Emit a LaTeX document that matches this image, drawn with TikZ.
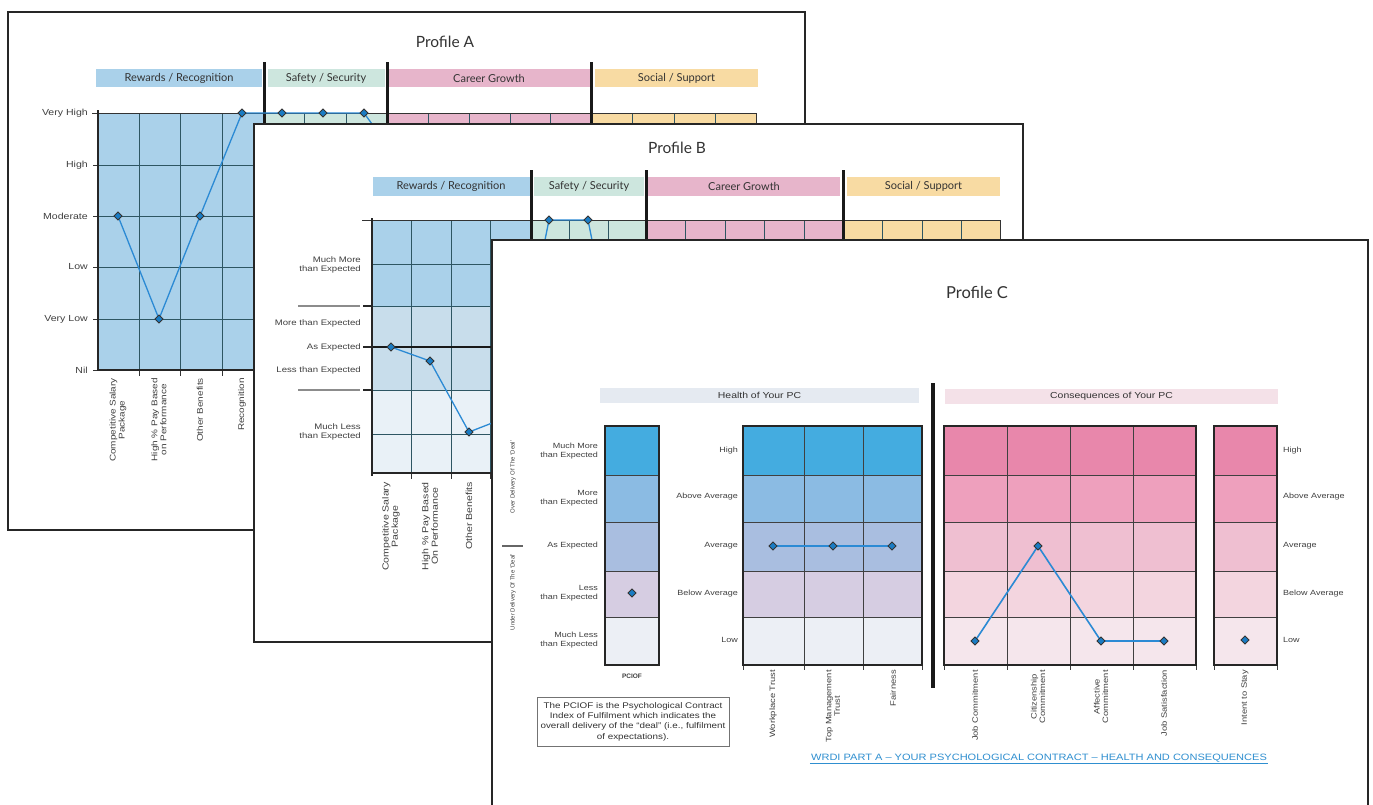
\documentclass[tikz,border=0pt]{standalone}
\usepackage{fontspec}
\setmainfont{Liberation Sans}
\newfontfamily\lato{Lato}
\newfontfamily\wf[FakeStretch=1.2]{Liberation Sans}
\usetikzlibrary{shapes.geometric}
\definecolor{cRW}{HTML}{AAD1EA}
\definecolor{cSS}{HTML}{CDE6DE}
\definecolor{cCG}{HTML}{E7B5CB}
\definecolor{cSP}{HTML}{F8DBA3}
\definecolor{bM}{HTML}{C8DDEB}
\definecolor{bL}{HTML}{E9F1F7}
\definecolor{gridteal}{HTML}{2E5663}
\definecolor{markblue}{HTML}{1A7CC4}
\definecolor{lineblue}{HTML}{2B8AD4}
\definecolor{hA}{HTML}{44ACE0}
\definecolor{hB}{HTML}{8BBBE3}
\definecolor{hC}{HTML}{A9BEE0}
\definecolor{hD}{HTML}{D6CDE2}
\definecolor{hE}{HTML}{ECEFF5}
\definecolor{pA}{HTML}{E887AB}
\definecolor{pB}{HTML}{EEA0BD}
\definecolor{pC}{HTML}{EFBFD1}
\definecolor{pD}{HTML}{F3D5DF}
\definecolor{pE}{HTML}{F5E6EC}
\definecolor{barH}{HTML}{E5EAF1}
\definecolor{barC}{HTML}{F4E1E8}
\definecolor{linkblue}{HTML}{2F8FD0}
\begin{document}
\begin{tikzpicture}[x=1pt,y=-1pt]
\tikzset{
  panel/.style={draw=black!85, line width=1.6pt, fill=white},
  ttl/.style={font=\lato\fontsize{15.5}{17}\selectfont, text=black!80},
  hbar/.style={font=\lato\fontsize{11}{12}\selectfont, text=black!80, inner sep=0pt, minimum height=18pt},
  ylab/.style={font=\wf\fontsize{8.8}{10}\selectfont, anchor=east, align=right, text=black!75, inner sep=0pt},
  xlab/.style={font=\wf\fontsize{8.3}{9}\selectfont, rotate=90, anchor=east, align=center, text=black!75, inner sep=0pt},
  clab/.style={font=\wf\fontsize{7.5}{8.6}\selectfont, align=right, text=black!75, inner sep=0pt},
  cxlab/.style={xlab, font=\wf\fontsize{7.8}{8.4}\selectfont},
  grd/.style={draw=gridteal, line width=0.6pt},
  cgrd/.style={draw=black!75, line width=0.6pt},
  sepline/.style={draw=black!90, line width=3pt},
  mk/.style={diamond, draw=black!80, fill=markblue, inner sep=0pt, minimum width=8.5pt, minimum height=8.5pt, line width=0.9pt},
  dline/.style={draw=lineblue, line width=1.3pt},
  tick/.style={draw=black!80, line width=0.8pt},
}
\useasboundingbox (0,0) rectangle (1373,804);
\fill[white] (0,0) rectangle (1373,804);

% ================= Profile A =================
\draw[panel] (8,12) rectangle (805,530);
\node[ttl] (aT) at (445,42) {Profile A};
\node[hbar, fill=cRW, minimum width=166pt] (aH1) at (179,78) {Rewards / Recognition};
\node[hbar, fill=cSS, minimum width=117pt] (aH2) at (326,78) {Safety / Security};
\node[hbar, fill=cCG, minimum width=201pt] (aH3) at (489,78) {Career Growth};
\node[hbar, fill=cSP, minimum width=163pt] (aH4) at (676.5,78) {Social / Support};
\fill[cRW] (98,113) rectangle (263,370);
\fill[cSS] (263,113) rectangle (387,370);
\fill[cCG] (387,113) rectangle (591,370);
\fill[cSP] (591,113) rectangle (756,370);
\foreach \x in {139,180,222,263,304,346,387,428,469,510,550,591,632,674,715} \draw[grd] (\x,113) -- (\x,370);
\foreach \y in {165,216,267,319} \draw[grd] (98,\y) -- (756,\y);
\draw[line width=1pt, black!80] (92,113) -- (756,113) -- (756,370);
\foreach \y in {113,165,216,267,319,370} \draw[tick] (93,\y) -- (98,\y);
\foreach \x in {139,180,222,263} \draw[tick] (\x,370) -- (\x,376);
\draw[line width=2.2pt, black!85] (98,110) -- (98,370) -- (756,370);
\foreach \x in {264,387,591} \draw[sepline] (\x,62) -- (\x,370);
\node[ylab] (aY1) at (88,113) {Very High};
\node[ylab] (aY2) at (88,165) {High};
\node[ylab] (aY3) at (88,216) {Moderate};
\node[ylab] (aY4) at (88,267) {Low};
\node[ylab] (aY5) at (88,319) {Very Low};
\node[ylab] (aY6) at (88,370) {Nil};
\node[xlab] (aX1) at (118,378) {Competitive Salary\\Package};
\node[xlab] (aX2) at (159,378) {High \% Pay Based\\on Performance};
\node[xlab] (aX3) at (200,378) {Other Benefits};
\node[xlab] (aX4) at (242,378) {Recognition};
\coordinate (a1) at (118,216);
\coordinate (a2) at (159,319);
\coordinate (a3) at (200,216);
\coordinate (a4) at (242,113);
\coordinate (a5) at (282,113);
\coordinate (a6) at (323,113);
\coordinate (a7) at (364,113);
\coordinate (a8) at (380,135);
\draw[dline] (a1) -- (a2) -- (a3) -- (a4) -- (a5) -- (a6) -- (a7) -- (a8);
\foreach \p in {a1,a2,a3,a4,a5,a6,a7} \node[mk] (\p m) at (\p) {};

% ================= Profile B =================
\draw[panel] (254,124) rectangle (1023,642);
\node[ttl] (bT) at (677,148) {Profile B};
\node[hbar, fill=cRW, minimum width=157pt, minimum height=19pt] (bH1) at (451,186) {Rewards / Recognition};
\node[hbar, fill=cSS, minimum width=110pt, minimum height=19pt] (bH2) at (589,186) {Safety / Security};
\node[hbar, fill=cCG, minimum width=192pt, minimum height=19pt] (bH3) at (744,186) {Career Growth};
\node[hbar, fill=cSP, minimum width=153pt, minimum height=19pt] (bH4) at (923.5,186) {Social / Support};
\fill[cRW] (372,220) rectangle (530,306);
\fill[bM] (372,306) rectangle (530,390);
\fill[bL] (372,390) rectangle (530,473);
\fill[cSS] (530,220) rectangle (646,473);
\fill[cCG] (646,220) rectangle (843,473);
\fill[cSP] (843,220) rectangle (1000,473);
\foreach \x in {411.5,451,490.5,530,569,608,646,685,725,764,804,843,882,922,961} \draw[grd] (\x,220) -- (\x,473);
\foreach \y in {264,306,390,434} \draw[grd] (372,\y) -- (1000,\y);
\draw[line width=2pt, black!90] (372,347) -- (1000,347);
\draw[line width=1pt, black!80] (362,220) -- (1000,220) -- (1000,473);
\foreach \y in {306,347,390} \draw[line width=1.5pt, black!85] (363,\y) -- (372,\y);
\foreach \y in {306,390} \draw[line width=2.5pt, black!45] (298,\y) -- (360,\y);
\foreach \x in {411.5,451,490.5} \draw[tick] (\x,473) -- (\x,479);
\draw[line width=2.2pt, black!85] (372,218) -- (372,476);
\draw[line width=2.2pt, black!85] (372,473) -- (1000,473);
\foreach \x in {531,646,843} \draw[sepline] (\x,170) -- (\x,473);
\node[ylab, font=\wf\fontsize{8}{9.5}\selectfont] (bY1) at (361,265) {Much More\\than Expected};
\node[ylab, font=\wf\fontsize{8}{9.5}\selectfont] (bY2) at (361,323) {More than Expected};
\node[ylab, font=\wf\fontsize{8}{9.5}\selectfont] (bY3) at (361,347) {As Expected};
\node[ylab, font=\wf\fontsize{8}{9.5}\selectfont] (bY4) at (361,370) {Less than Expected};
\node[ylab, font=\wf\fontsize{8}{9.5}\selectfont] (bY5) at (361,432) {Much Less\\than Expected};
\node[xlab, font=\wf\fontsize{8.8}{9.4}\selectfont] (bX1) at (391,482) {Competitive Salary\\Package};
\node[xlab, font=\wf\fontsize{8.8}{9.4}\selectfont] (bX2) at (430,482) {High \% Pay Based\\On Performance};
\node[xlab, font=\wf\fontsize{8.8}{9.4}\selectfont] (bX3) at (469,482) {Other Benefits};
\coordinate (b1) at (391,347);
\coordinate (b2) at (430,361);
\coordinate (b3) at (469,432);
\coordinate (b4) at (505,418);
\coordinate (b5) at (549,220);
\coordinate (b6) at (588,220);
\coordinate (b0) at (543,250);
\coordinate (b7) at (594,250);
\draw[dline] (b1) -- (b2) -- (b3) -- (b4);
\draw[dline] (b0) -- (b5) -- (b6) -- (b7);
\foreach \p in {b1,b2,b3,b5,b6} \node[mk] (\p m) at (\p) {};

% ================= Profile C =================
\draw[panel] (492,240) rectangle (1368,820);
\node[ttl, font=\lato\fontsize{16.5}{18}\selectfont] (cT) at (977,292) {Profile C};
\node[hbar, fill=barH, minimum width=319pt, minimum height=15pt, font=\wf\fontsize{8.7}{9}\selectfont] (cH1) at (759.5,395) {Health of Your PC};
\node[hbar, fill=barC, minimum width=333pt, minimum height=15pt, font=\wf\fontsize{8.7}{9}\selectfont] (cH2) at (1111.5,396) {Consequences of Your PC};
\foreach \ya/\yb/\ch/\cp in {426/475/hA/pA, 475/522/hB/pB, 522/571/hC/pC, 571/617/hD/pD, 617/665/hE/pE} {
  \fill[\ch] (605,\ya) rectangle (659,\yb);
  \fill[\ch] (743,\ya) rectangle (922,\yb);
  \fill[\cp] (944,\ya) rectangle (1196,\yb);
  \fill[\cp] (1214,\ya) rectangle (1277,\yb);
}
\foreach \y in {475,522,571,617} {
  \draw[cgrd] (605,\y) -- (659,\y);
  \draw[cgrd] (743,\y) -- (922,\y);
  \draw[cgrd] (944,\y) -- (1196,\y);
  \draw[cgrd] (1214,\y) -- (1277,\y);
}
\foreach \x in {804,863,1007,1070,1133} \draw[cgrd] (\x,426) -- (\x,665);
\foreach \x in {743,804,863,922,944,1007,1070,1133,1196,1214,1277} \draw[cgrd] (\x,665) -- (\x,670);
\foreach \xa/\xb in {605/659,743/922,944/1196,1214/1277} \draw[line width=1.2pt, black!85] (\xa,426) rectangle (\xb,665);
\draw[line width=4pt, black!90] (933,383) -- (933,688);
% PCIOF labels
\node[clab, anchor=east] (cP1) at (598,451) {Much More\\than Expected};
\node[clab, anchor=east] (cP2) at (598,498) {More\\than Expected};
\node[clab, anchor=east] (cP3) at (598,546) {As Expected};
\node[clab, anchor=east] (cP4) at (598,593) {Less\\than Expected};
\node[clab, anchor=east] (cP5) at (598,640) {Much Less\\than Expected};
\node[clab, font=\fontsize{6}{7}\selectfont, rotate=90, align=center] (cO) at (513,477) {Over Delivery Of The ‘Deal’};
\node[clab, font=\fontsize{6}{7}\selectfont, rotate=90, align=center] (cU) at (513,592) {Under Delivery Of The ‘Deal’};
\draw[line width=1.3pt, black!60] (502,546) -- (523,546);
\node[clab, font=\bfseries\fontsize{6.5}{7}\selectfont] (cPI) at (632,676) {PCIOF};
\node[draw=black!55, line width=0.9pt, minimum width=192pt, minimum height=49pt, align=center, inner sep=2pt, font=\wf\fontsize{8.2}{10.3}\selectfont, text=black!80] (cBox) at (633,721.5) {The PCIOF is the Psychological Contract\\Index of Fulfilment which indicates the\\overall delivery of the “deal” (i.e., fulfilment\\of expectations).};
% Health labels
\node[clab, anchor=east] (cL1) at (738,451) {High};
\node[clab, anchor=east] (cL2) at (738,497) {Above Average};
\node[clab, anchor=east] (cL3) at (738,546) {Average};
\node[clab, anchor=east] (cL4) at (738,594) {Below Average};
\node[clab, anchor=east] (cL5) at (738,640) {Low};
% Consequence labels
\node[clab, anchor=west, align=left] (cR1) at (1283,451) {High};
\node[clab, anchor=west, align=left] (cR2) at (1283,497) {Above Average};
\node[clab, anchor=west, align=left] (cR3) at (1283,546) {Average};
\node[clab, anchor=west, align=left] (cR4) at (1283,594) {Below Average};
\node[clab, anchor=west, align=left] (cR5) at (1283,640) {Low};
% x labels
\node[cxlab] (cX1) at (773,670) {Workplace Trust};
\node[cxlab] (cX2) at (833,670) {Top Management\\Trust};
\node[cxlab] (cX3) at (893,670) {Fairness};
\node[cxlab] (cX4) at (975,670) {Job Commitment};
\node[cxlab] (cX5) at (1038,670) {Citizenship\\Commitment};
\node[cxlab] (cX6) at (1101,670) {Affective\\Commitment};
\node[cxlab] (cX7) at (1164,670) {Job Satisfaction};
\node[cxlab] (cX8) at (1245,670) {Intent to Stay};
% data
\coordinate (c0) at (632,593);
\coordinate (r1) at (773,546);
\coordinate (r2) at (833,546);
\coordinate (r3) at (892,546);
\coordinate (s1) at (975,641);
\coordinate (s2) at (1038,546);
\coordinate (s3) at (1101,641);
\coordinate (s4) at (1164,641);
\coordinate (t1) at (1245,640);
\draw[dline, line width=1.8pt] (r1) -- (r2) -- (r3);
\draw[dline, line width=1.6pt] (s1) -- (s2) -- (s3) -- (s4);
\foreach \p in {c0,r1,r2,r3,s1,s2,s3,s4,t1} \node[mk] (\p m) at (\p) {};
% link
\node[inner sep=1pt, text=linkblue, font=\wf\fontsize{9.2}{10}\selectfont] (cLink) at (1039,758) {WRDI PART A – YOUR PSYCHOLOGICAL CONTRACT – HEALTH AND CONSEQUENCES};
\draw[linkblue, line width=0.8pt] ([yshift=-0.5pt]cLink.south west) -- ([yshift=-0.5pt]cLink.south east);
\end{tikzpicture}
\end{document}
